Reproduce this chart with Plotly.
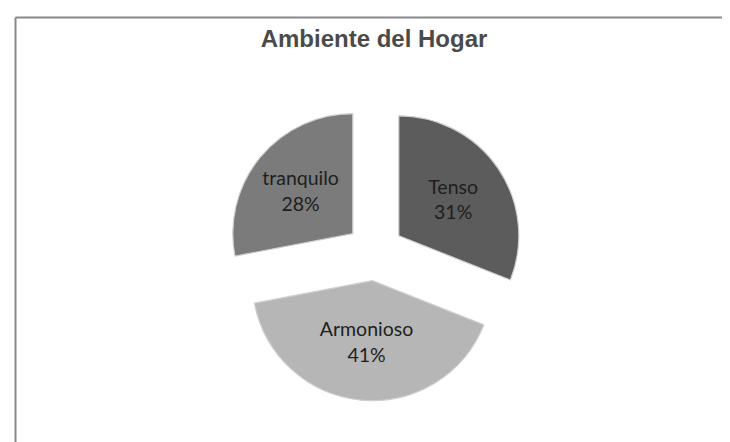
import plotly.graph_objects as go

title_text = "Ambiente del Hogar"
labels = ["Tenso", "Armonioso", "tranquilo"]
values = [31, 41, 28]
colors = ["#5c5c5c", "#b6b6b6", "#7b7b7b"]
pulls = [0.24, 0.24, 0.24]

W, H = 730, 442
cx, cy = 367, 244
r = 120
half = r * (1 + max(pulls))

fig = go.Figure(go.Pie(
    labels=labels,
    values=values,
    sort=False,
    direction="clockwise",
    rotation=0,
    pull=pulls,
    marker=dict(colors=colors, line=dict(color="#cfcfcf", width=1.2)),
    texttemplate="%{label}<br>%{percent}",
    textposition="inside",
    insidetextorientation="horizontal",
    textfont=dict(family="Lato", size=19.5, color="#1e1e1e"),
    hoverinfo="label+percent",
    showlegend=False,
    domain=dict(x=[(cx - half) / W, (cx + half) / W],
                y=[(H - cy - half) / H, (H - cy + half) / H]),
))

fig.update_layout(
    width=W, height=H,
    margin=dict(l=0, r=0, t=0, b=0),
    paper_bgcolor="white",
    plot_bgcolor="white",
    title=dict(text="<b>" + title_text + "</b>", x=366 / W, xanchor="center",
               y=1 - 31 / H, yanchor="middle",
               font=dict(family="Liberation Sans", size=24, color="#4a4a4a")),
    shapes=[
        dict(type="line", xref="paper", yref="paper",
             x0=7.5 / W, x1=1.01, y0=1 - 9.5 / H, y1=1 - 9.5 / H,
             line=dict(color="#888888", width=2)),
        dict(type="line", xref="paper", yref="paper",
             x0=7.5 / W, x1=7.5 / W, y0=1 - 9.5 / H, y1=-0.01,
             line=dict(color="#888888", width=2)),
    ],
)

fig.write_html("out.html")
